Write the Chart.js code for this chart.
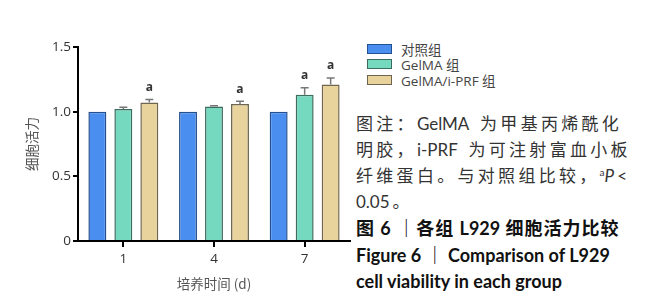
<!DOCTYPE html>
<html>
<head>
<meta charset="utf-8">
<script src="https://cdn.jsdelivr.net/npm/chart.js@4.4.1/dist/chart.umd.min.js"></script>
<style>
  body { margin: 0; background: #fff; width: 672px; height: 300px; overflow: hidden; position: relative; }
  #wrap { position: absolute; left: 0; top: 0; width: 352px; height: 300px; }
  #legend { position: absolute; left: 367px; top: 41px; font: 13.5px "Open Sans", "Noto Sans CJK SC", sans-serif; color: #444; }
  #legend .row { height: 15.5px; display: flex; align-items: center; }
  #legend .box { width: 23px; height: 8px; border: 1px solid #333; margin-right: 9px; }
  .caption { position: absolute; left: 356px; top: 111px; width: 316px; color: #333;
    font-family: "Lato", "Noto Sans CJK SC", sans-serif; }
  .caption .n { font-size: 17px; line-height: 26px; height: 26px; letter-spacing: 3.3px; white-space: nowrap; }
  .caption .n .l { letter-spacing: 0; margin-right: 3px; }
  .caption .b { font-size: 18px; line-height: 26.5px; height: 26.5px; font-weight: bold; color: #111; white-space: nowrap; }
  .caption .b .c { letter-spacing: 1px; }
  .sup { font-size: 10px; position: relative; top: -6px; letter-spacing: 0; }
</style>
</head>
<body>
<div id="wrap"><canvas id="chart" width="352" height="300"></canvas></div>
<div id="legend"></div>
<div class="caption">
  <div class="n">图注：<span class="l">GelMA</span> 为甲基丙烯酰化</div>
  <div class="n">明胶，<span class="l">i-PRF</span> 为可注射富血小板</div>
  <div class="n">纤维蛋白。与对照组比较，<span class="sup">a</span><i class="l">P</i><span class="l">&lt;</span></div>
  <div class="n"><span class="l">0.05</span>。</div>
  <div class="b"><span class="c">图 6 ｜各组 </span>L929<span class="c"> 细胞活力比较</span></div>
  <div class="b">Figure 6 ｜ Comparison of L929</div>
  <div class="b">cell viability in each group</div>
</div>
<script>
// data
const days = ['1', '4', '7'];
const seriesNames = ['对照组', 'GelMA 组', 'GelMA/i-PRF 组'];
const controlVals = [1.00, 1.00, 1.00];
const gelmaVals = [1.02, 1.04, 1.13];
const prfVals = [1.07, 1.06, 1.21];
const controlErr = [0, 0, 0];
const gelmaErr = [0.015, 0.005, 0.055];
const prfErr = [0.025, 0.02, 0.05];
const gelmaSig = ['', '', 'a'];
const prfSig = ['a', 'a', 'a'];
const yTicks = [0, 0.5, 1.0, 1.5];

const fills = ['#4a8ff0', '#74d9bf', '#e9d39c'];
const borders = ['#24508f', '#3d6b5e', '#6f6550'];

const series = [
  { vals: controlVals, err: controlErr, sig: ['', '', ''] },
  { vals: gelmaVals, err: gelmaErr, sig: gelmaSig },
  { vals: prfVals, err: prfErr, sig: prfSig },
];

// html legend
const legend = document.getElementById('legend');
seriesNames.forEach((name, i) => {
  const row = document.createElement('div');
  row.className = 'row';
  row.innerHTML = '<span class="box" style="background:' + fills[i] + ';border-color:' + borders[i] + '"></span>' + name;
  legend.appendChild(row);
});

// upper error bars + significance letters
const errorBars = {
  id: 'errorBars',
  afterDatasetsDraw(chart) {
    const ctx = chart.ctx;
    const y = chart.scales.y;
    ctx.save();
    series.forEach((s, di) => {
      const meta = chart.getDatasetMeta(di);
      meta.data.forEach((bar, i) => {
        const top = y.getPixelForValue(s.vals[i] + s.err[i]);
        if (s.err[i] > 0) {
          ctx.strokeStyle = '#777';
          ctx.lineWidth = 1.5;
          ctx.beginPath();
          ctx.moveTo(bar.x, bar.y);
          ctx.lineTo(bar.x, top);
          ctx.moveTo(bar.x - 4, top);
          ctx.lineTo(bar.x + 4, top);
          ctx.stroke();
        }
        if (s.sig[i]) {
          ctx.fillStyle = '#333';
          ctx.font = 'bold 12px "Open Sans", sans-serif';
          ctx.textAlign = 'center';
          ctx.textBaseline = 'bottom';
          ctx.fillText(s.sig[i], bar.x, top - 6);
        }
      });
    });
    ctx.restore();
  }
};

new Chart(document.getElementById('chart'), {
  type: 'bar',
  data: {
    labels: days,
    datasets: series.map((s, i) => ({
      label: seriesNames[i],
      data: s.vals,
      backgroundColor: fills[i],
      borderColor: borders[i],
      borderWidth: 1.5,
      categoryPercentage: 0.86,
      barPercentage: 0.69,
    })),
  },
  options: {
    responsive: false,
    animation: false,
    layout: { padding: { top: 47, right: 2, left: 0, bottom: 0 } },
    plugins: { legend: { display: false }, tooltip: { enabled: false } },
    scales: {
      x: {
        grid: { offset: false, drawOnChartArea: false, tickLength: 6, color: '#000', lineWidth: 2 },
        border: { color: '#000', width: 2 },
        ticks: { color: '#333', padding: 4, font: { family: 'Open Sans', size: 13.5 } },
        title: {
          display: true, text: '培养时间 (d)', color: '#555',
          font: { family: '"Noto Sans CJK SC"', size: 13.5 }, padding: { top: 0, bottom: 8 }
        },
        afterFit: (scale) => { scale.height = 59; },
      },
      y: {
        min: 0, max: 1.5,
        afterBuildTicks: (scale) => { scale.ticks = yTicks.map(v => ({ value: v })); },
        grid: { drawOnChartArea: false, tickLength: 5, color: '#000', lineWidth: 2 },
        border: { color: '#000', width: 2 },
        ticks: {
          color: '#333', padding: 2, font: { family: 'Open Sans', size: 13.5 },
          callback: (v) => v === 0 ? '0' : Number(v).toFixed(1),
        },
        title: {
          display: true, text: '细胞活力', color: '#555',
          font: { family: '"Noto Sans CJK SC"', size: 13.5 }, padding: { top: 24, bottom: 0 }
        },
        afterFit: (scale) => { scale.width = 78; },
      },
    },
  },
  plugins: [errorBars],
});
</script>
</body>
</html>
